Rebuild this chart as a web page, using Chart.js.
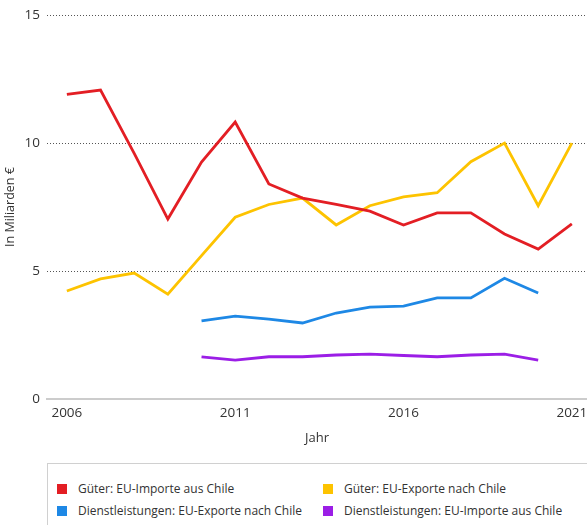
<!DOCTYPE html>
<html lang="de">
<head>
<meta charset="utf-8">
<script src="https://cdn.jsdelivr.net/npm/chart.js@4"></script>
<style>
  body { margin: 0; background: #fff; font-family: "Open Sans", sans-serif; }
  #wrap { position: relative; width: 587px; height: 525px; overflow: hidden; }
  #chartBox { position: absolute; left: 0; top: 0; width: 587px; height: 446px; }
  #legend {
    position: absolute; left: 47px; top: 463px; width: 600px; height: 80px;
    border: 1.5px solid #d0d0d0; box-sizing: border-box;
  }
  .item { position: absolute; font-size: 12px; color: #333; white-space: nowrap; line-height: 16px; }
  .item span.box { position: absolute; left: 0; top: 3px; width: 10px; height: 10px; }
  .item span.txt { position: absolute; left: 21px; top: 0; }
</style>
</head>
<body>
<div id="wrap">
  <div id="chartBox"><canvas id="tradeChart"></canvas></div>
  <div id="legend"></div>
</div>
<script>
// Jahre
const years = [2006, 2007, 2008, 2009, 2010, 2011, 2012, 2013, 2014, 2015, 2016, 2017, 2018, 2019, 2020, 2021];

// Güter (Mrd. €)
const goodsImports = [11.9, 12.07, 9.6, 7.03, 9.26, 10.82, 8.4, 7.85, 7.6, 7.34, 6.8, 7.27, 7.27, 6.45, 5.86, 6.84];
const goodsExports = [4.22, 4.69, 4.92, 4.1, 5.6, 7.1, 7.6, 7.85, 6.8, 7.55, 7.9, 8.06, 9.27, 10.0, 7.55, 10.0];

// Dienstleistungen (erst ab 2010, bis 2020)
const servicesExports = [null, null, null, null, 3.05, 3.24, 3.12, 2.97, 3.36, 3.59, 3.63, 3.95, 3.95, 4.72, 4.14, null];
const servicesImports = [null, null, null, null, 1.65, 1.52, 1.65, 1.65, 1.72, 1.75, 1.7, 1.65, 1.72, 1.75, 1.52, null];

const xTicks = [2006, 2011, 2016, 2021];
const yTicks = [0, 5, 10, 15];

const series = [
    { label: 'Güter: EU-Importe aus Chile', values: goodsImports, color: '#e31e24' },
    { label: 'Güter: EU-Exporte nach Chile', values: goodsExports, color: '#fdc300' },
    { label: 'Dienstleistungen: EU-Exporte nach Chile', values: servicesExports, color: '#1e88e5' },
    { label: 'Dienstleistungen: EU-Importe aus Chile', values: servicesImports, color: '#9b1ee6' }
];

// Punkte aus Jahr + Wert bauen (Lücken weglassen)
function toPoints(values) {
    return years.map((y, i) => ({ x: y, y: values[i] })).filter(p => p.y !== null);
}

const datasets = series.map(s => ({
    label: s.label,
    data: toPoints(s.values),
    borderColor: s.color,
    backgroundColor: s.color,
    borderWidth: 2.8,
    pointRadius: 0,
    tension: 0
}));

const textColor = '#333';

new Chart(document.getElementById('tradeChart'), {
    type: 'line',
    data: { datasets: datasets },
    options: {
        responsive: true,
        maintainAspectRatio: false,
        animation: false,
        layout: { padding: { top: 8, right: 0, left: 0, bottom: 0 } },
        plugins: {
            legend: { display: false },
            tooltip: { enabled: false }
        },
        scales: {
            x: {
                type: 'linear',
                min: 2005.41,
                max: 2021.45,
                afterBuildTicks: scale => { scale.ticks = xTicks.map(v => ({ value: v })); },
                afterFit: scale => { scale.height = 47; scale.paddingLeft = 0; scale.paddingRight = 0; },
                grid: { display: false, drawTicks: false },
                border: { display: true, color: '#cccccc', width: 2 },
                ticks: {
                    color: textColor,
                    font: { family: 'Open Sans', size: 13.5 },
                    padding: 6,
                    maxRotation: 0,
                    callback: v => String(v)
                },
                title: {
                    display: true,
                    text: 'Jahr',
                    color: textColor,
                    font: { family: 'Open Sans', size: 13 },
                    padding: { top: 4, bottom: 0 }
                }
            },
            y: {
                min: 0,
                max: 15,
                afterBuildTicks: scale => { scale.ticks = yTicks.map(v => ({ value: v })); },
                afterFit: scale => { scale.width = 47; },
                grid: {
                    drawTicks: false,
                    color: ctx => (ctx.tick && ctx.tick.value === 0) ? 'rgba(0,0,0,0)' : '#555',
                    lineWidth: 1
                },
                border: { display: false, dash: [1, 2] },
                ticks: {
                    color: textColor,
                    font: { family: 'Open Sans', size: 13.5 },
                    padding: 7
                },
                title: {
                    display: true,
                    text: 'In Miliarden €',
                    color: textColor,
                    font: { family: 'Open Sans', size: 12.5 },
                    padding: { top: 3, bottom: 0 }
                }
            }
        }
    }
});

// Legende in zwei Spalten
const legendPos = [
    { left: 9, top: 17 }, { left: 275, top: 17 },
    { left: 9, top: 39 }, { left: 275, top: 39 }
];
const legendEl = document.getElementById('legend');
series.forEach((s, i) => {
    const item = document.createElement('div');
    item.className = 'item';
    item.style.left = legendPos[i].left + 'px';
    item.style.top = legendPos[i].top + 'px';
    item.innerHTML = '<span class="box" style="background:' + s.color + '"></span><span class="txt">' + s.label + '</span>';
    legendEl.appendChild(item);
});
</script>
</body>
</html>
